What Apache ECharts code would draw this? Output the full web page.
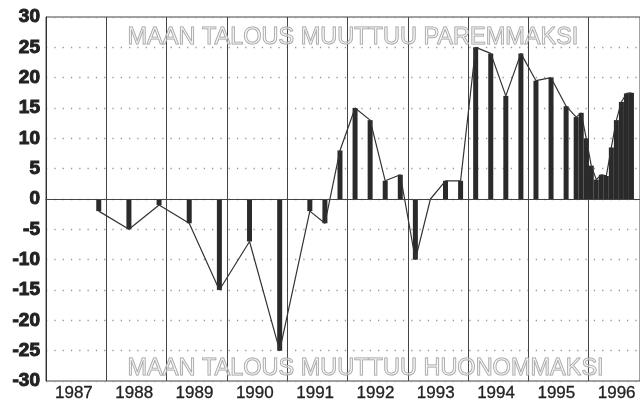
<!DOCTYPE html>
<html>
<head>
<meta charset="utf-8">
<script src="https://cdn.jsdelivr.net/npm/echarts@6/dist/echarts.min.js"></script>
<style>
html,body{margin:0;padding:0;background:#fff;}
#c{width:640px;height:403px;}
</style>
</head>
<body>
<div id="c"></div>
<script>
// Survey months (year-month) and balance values
const months = [
  '1987-11','1988-05','1988-11','1989-05','1989-11','1990-05','1990-11',
  '1991-05','1991-08','1991-11','1992-02','1992-05','1992-08','1992-11',
  '1993-02','1993-05','1993-08','1993-11','1994-02','1994-05','1994-08','1994-11',
  '1995-02','1995-05','1995-08','1995-10','1995-11','1995-12',
  '1996-01','1996-02','1996-03','1996-04','1996-05','1996-06','1996-07','1996-08','1996-09'
];
const values = [
  -2,-5,-1,-4,-15,-7,-25,
  -2,-4,8,15,13,3,4,
  -10,0,3,3,25,24,17,24,
  19.5,20,15.3,13.5,14.2,10,
  5.5,3.2,4,3.8,8.5,13,16,17.4,17.5
];
const yearLabels = [1987,1988,1989,1990,1991,1992,1993,1994,1995,1996];
const yTicks = [-30,-25,-20,-15,-10,-5,0,5,10,15,20,25,30];
const topText = 'MAAN TALOUS MUUTTUU PAREMMAKSI';
const bottomText = 'MAAN TALOUS MUUTTUU HUONOMMAKSI';

function toYear(s){ const p=s.split('-'); return +p[0] + (+p[1]-0.5)/12; }
const pts = months.map((m,i)=>[toYear(m), values[i]]);

const chart = echarts.init(document.getElementById('c'), null, {renderer:'canvas'});
chart.setOption({
  animation:false,
  grid:{left:46, right:-1, top:17, bottom:22, show:true, borderColor:'#444', borderWidth:1, backgroundColor:'transparent'},
  xAxis:{
    type:'value', min:yearLabels[0], max:1996.85, interval:1,
    axisLine:{show:true, lineStyle:{color:'#333', width:1}},
    axisTick:{show:false},
    splitLine:{show:true, lineStyle:{color:'#444', width:1, type:'solid'}},
    axisLabel:{
      show:true, showMaxLabel:false, align:'left', padding:[0,0,0,9], margin:4,
      fontFamily:'"Liberation Sans Narrow","Arial Narrow","Liberation Sans",Arial,sans-serif',
      fontSize:17, color:'#222', textBorderColor:'#222', textBorderWidth:0.3,
      formatter:function(v){ return yearLabels.indexOf(v) >= 0 ? String(v) : ''; }
    }
  },
  yAxis:{
    type:'value', min:yTicks[0], max:yTicks[yTicks.length-1], interval:5,
    axisLine:{show:true, lineStyle:{color:'#333', width:1}},
    axisTick:{show:false},
    splitLine:{show:true, lineStyle:{color:'#999', width:1.3, type:[1.3,7]}},
    axisLabel:{
      margin:6, fontFamily:'"Liberation Sans", Arial, sans-serif', fontWeight:700,
      fontSize:19, color:'#222', textBorderColor:'#222', textBorderWidth:1
    }
  },
  series:[
    {
      type:'bar', data:pts, barWidth:5, itemStyle:{color:'#2a2a2a'}, z:3,
      markLine:{silent:true, symbol:'none', label:{show:false},
        lineStyle:{color:'#444', width:1, type:'solid'}, data:[{yAxis:0}]}
    },
    {
      type:'line', data:pts, showSymbol:false, symbol:'none', z:4,
      lineStyle:{color:'#333', width:1.2}
    }
  ],
  graphic:[
    {type:'text', left:127, top:25, z:1, silent:true,
     style:{text:topText, font:'23.5px "Liberation Sans", Arial, sans-serif',
       fill:'rgba(240,240,240,0.4)', stroke:'#9c9c9c', lineWidth:1}},
    {type:'text', left:127, top:356, z:1, silent:true,
     style:{text:bottomText, font:'23.5px "Liberation Sans", Arial, sans-serif',
       fill:'rgba(240,240,240,0.4)', stroke:'#9c9c9c', lineWidth:1}}
  ]
});
</script>
</body>
</html>
